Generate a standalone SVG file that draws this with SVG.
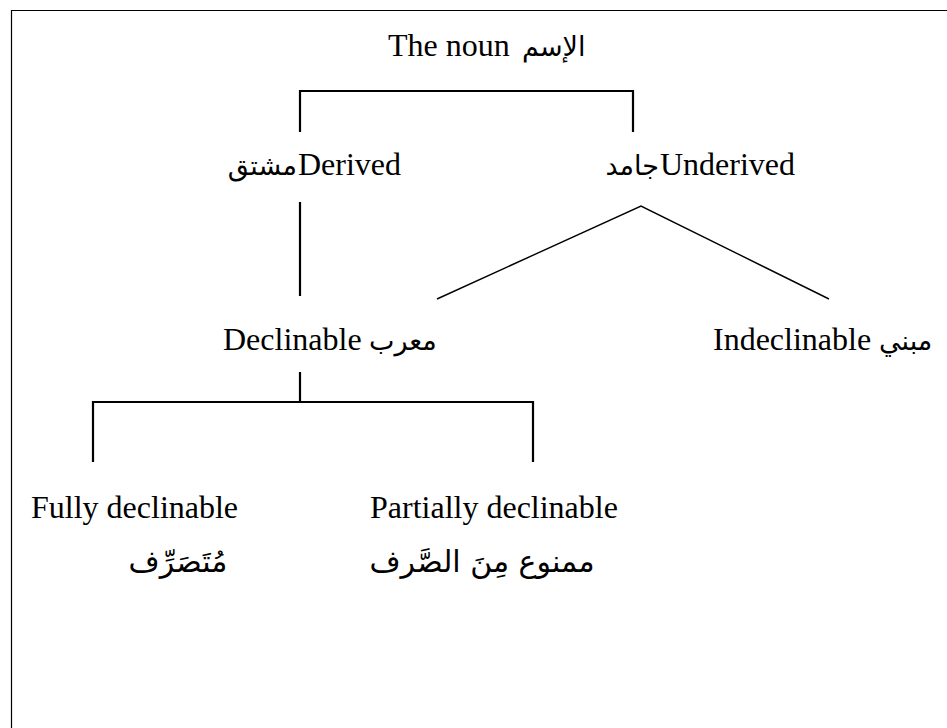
<svg xmlns="http://www.w3.org/2000/svg" width="947" height="728" viewBox="0 0 947 728">
  <style>
    .lat { font-family: "Liberation Serif", "Times New Roman", serif; font-size: 32px; fill: #000; }
    .ar { font-family: "DejaVu Sans", "Noto Sans", sans-serif; font-size: 27px; fill: #000; }
    .ar2 { font-family: "DejaVu Sans", "Noto Sans", sans-serif; font-size: 30px; fill: #000; }
    .br { fill: none; stroke: #000; stroke-width: 2.2; }
    .thin { fill: none; stroke: #000; stroke-width: 1.4; }
  </style>
  <rect x="0" y="0" width="947" height="728" fill="#fff"/>
  <path id="frame" d="M11.5,728 V10.5 H947" fill="none" stroke="#000" stroke-width="1.2"/>

  <g id="connectors">
    <path class="br" d="M300,132 V91 H633 V132"/>
    <path class="br" d="M300,202 V296"/>
    <path class="thin" d="M437,299 L641,206 L829,299"/>
    <path class="br" d="M300,372 V402"/>
    <path class="br" d="M93,462 V402 H533 V462"/>
  </g>

  <g id="node-noun">
    <text class="lat" x="388" y="56">The noun</text>
    <text class="ar" x="522" y="56">الإسم</text>
  </g>

  <g id="node-derived">
    <text class="ar" x="297" y="175" text-anchor="end">مشتق</text>
    <text class="lat" x="298" y="175">Derived</text>
  </g>

  <g id="node-underived">
    <text class="ar" x="659" y="175" text-anchor="end">جامد</text>
    <text class="lat" x="660" y="175">Underived</text>
  </g>

  <g id="node-declinable">
    <text class="lat" x="223" y="350">Declinable</text>
    <text class="ar" x="369" y="350">معرب</text>
  </g>

  <g id="node-indeclinable">
    <text class="lat" x="713" y="350">Indeclinable</text>
    <text class="ar" x="879" y="350">مبني</text>
  </g>

  <g id="node-fully">
    <text class="lat" x="31" y="518">Fully declinable</text>
    <text class="ar2" x="178" y="572" text-anchor="middle">مُتَصَرِّف</text>
  </g>

  <g id="node-partially">
    <text class="lat" x="370" y="518">Partially declinable</text>
    <text class="ar2" x="482" y="572" text-anchor="middle">ممنوع مِنَ الصَّرف</text>
  </g>
</svg>
